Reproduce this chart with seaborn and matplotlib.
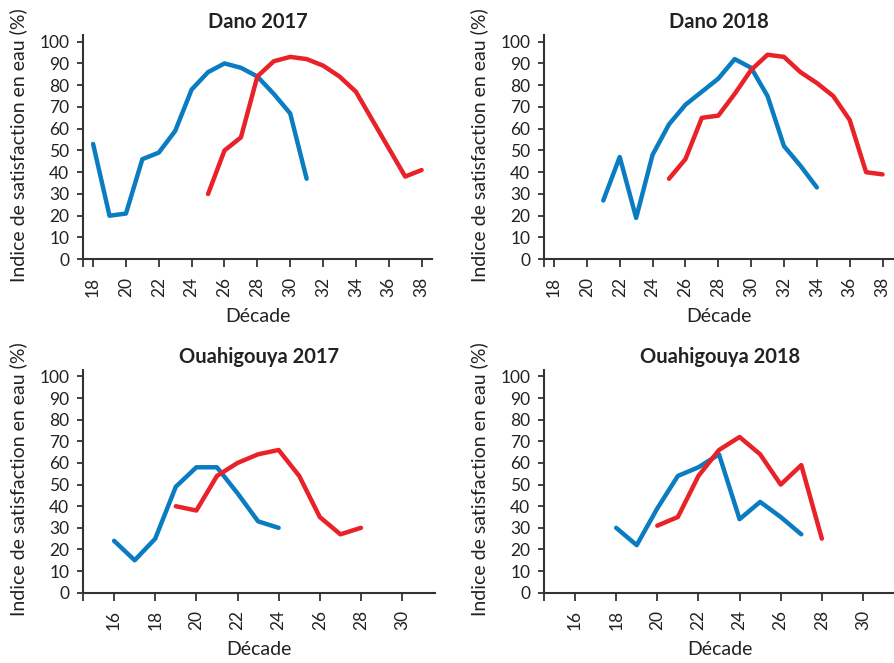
import pandas as pd
import numpy as np

import matplotlib
matplotlib.use("Agg")
import matplotlib.pyplot as plt
import seaborn as sns


# data (décades and water satisfaction index, %)
dano17_blue_x = [18, 19, 20, 21, 22, 23, 24, 25, 26, 27, 28, 29, 30, 31]
dano17_blue_y = [53, 20, 21, 46, 49, 59, 78, 86, 90, 88, 84, 76, 67, 37]
dano17_red_x = [25, 26, 27, 28, 29, 30, 31, 32, 33, 34, 35, 36, 37, 38]
dano17_red_y = [30, 50, 56, 84, 91, 93, 92, 89, 84, 77, 64, 51, 38, 41]

dano18_blue_x = [21, 22, 23, 24, 25, 26, 27, 28, 29, 30, 31, 32, 33, 34]
dano18_blue_y = [27, 47, 19, 48, 62, 71, 77, 83, 92, 88, 75, 52, 43, 33]
dano18_red_x = [25, 26, 27, 28, 29, 30, 31, 32, 33, 34, 35, 36, 37, 38]
dano18_red_y = [37, 46, 65, 66, 76, 87, 94, 93, 86, 81, 75, 64, 40, 39]

ouahi17_blue_x = [16, 17, 18, 19, 20, 21, 22, 23, 24]
ouahi17_blue_y = [24, 15, 25, 49, 58, 58, 46, 33, 30]
ouahi17_red_x = [19, 20, 21, 22, 23, 24, 25, 26, 27, 28]
ouahi17_red_y = [40, 38, 54, 60, 64, 66, 54, 35, 27, 30]

ouahi18_blue_x = [18, 19, 20, 21, 22, 23, 24, 25, 26, 27]
ouahi18_blue_y = [30, 22, 39, 54, 58, 64, 34, 42, 35, 27]
ouahi18_red_x = [20, 21, 22, 23, 24, 25, 26, 27, 28]
ouahi18_red_y = [31, 35, 54, 66, 72, 64, 50, 59, 25]

titles = ["Dano 2017", "Dano 2018", "Ouahigouya 2017", "Ouahigouya 2018"]
dano_ticks = list(range(18, 39, 2))
ouahi_ticks = list(range(16, 31, 2))
y_ticks = list(range(0, 101, 10))

blue = "#0a7cc1"
red = "#e92128"
dark = "#333333"
txt = "#222222"

sns.set_style("white")
plt.rcParams['font.family'] = ['Lato', 'DejaVu Sans']

fig = plt.figure(figsize=(8.95, 6.63), dpi=100)

# axes boxes in figure fractions [left, bottom, width, height]
boxes = [
    [0.093, 0.609, 0.390, 0.338],
    [0.608, 0.609, 0.390, 0.338],
    [0.093, 0.106, 0.393, 0.336],
    [0.608, 0.106, 0.393, 0.336],
]

panels = [
    (dano17_blue_x, dano17_blue_y, dano17_red_x, dano17_red_y, dano_ticks, (17.4, 38.65)),
    (dano18_blue_x, dano18_blue_y, dano18_red_x, dano18_red_y, dano_ticks, (17.4, 38.65)),
    (ouahi17_blue_x, ouahi17_blue_y, ouahi17_red_x, ouahi17_red_y, ouahi_ticks, (14.5, 31.6)),
    (ouahi18_blue_x, ouahi18_blue_y, ouahi18_red_x, ouahi18_red_y, ouahi_ticks, (14.5, 31.6)),
]

for box, title, (bx, by, rx, ry, xt, xl) in zip(boxes, titles, panels):
    ax = fig.add_axes(box)
    df_b = pd.DataFrame({"decade": bx, "isrs": by})
    df_r = pd.DataFrame({"decade": rx, "isrs": ry})
    sns.lineplot(data=df_b, x="decade", y="isrs", ax=ax, color=blue, linewidth=3.2)
    sns.lineplot(data=df_r, x="decade", y="isrs", ax=ax, color=red, linewidth=3.2)

    ax.set_xlim(*xl)
    ax.set_ylim(0, 103)
    ax.set_xticks(xt)
    ax.set_xticks([xl[0]], minor=True)
    ax.set_yticks(y_ticks)
    ax.tick_params(axis="x", which="both", direction="out", length=5.5, width=1.3,
                   color=dark, labelsize=12.5, labelcolor=txt, labelrotation=90,
                   bottom=True, pad=7)
    ax.tick_params(axis="y", direction="out", length=4, width=1.3, color=dark,
                   labelsize=12.5, labelcolor=txt, left=True, pad=6)
    for s in ["top", "right"]:
        ax.spines[s].set_visible(False)
    for s in ["left", "bottom"]:
        ax.spines[s].set_color(dark)
        ax.spines[s].set_linewidth(1.5)

    ax.set_title(title, fontsize=14.5, fontweight="bold", color=txt, pad=5)
    ax.set_xlabel("Décade", fontsize=14, color=txt)
    ax.set_ylabel("Indice de satisfaction en eau (%)", fontsize=14, color=txt)
    ax.xaxis.set_label_coords(0.5, -0.218)
    ax.yaxis.set_label_coords(-0.16, 0.51)

fig.savefig("out.png", dpi=100)
